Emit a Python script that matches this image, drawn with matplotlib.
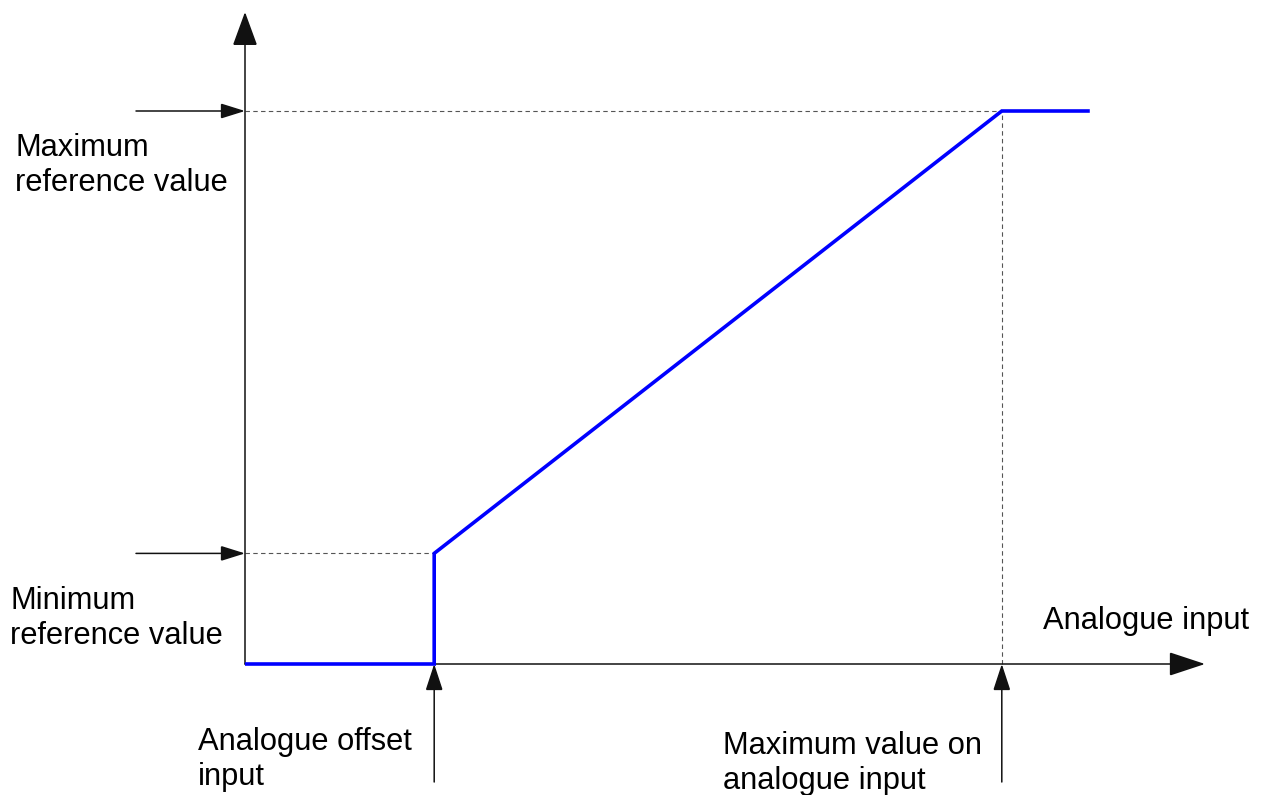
import matplotlib
matplotlib.use('Agg')
from matplotlib import pyplot as plt

# Analogue input -> reference curve (arbitrary units)
input_pts = [0, 2, 2, 8, 8.93]
ref_pts = [0, 0, 1, 5, 5]
offset_input = 2
max_input = 8
min_ref = 1
max_ref = 5

labels_y = ['Maximum\nreference value', 'Minimum\nreference value']
labels_x = ['Analogue offset\ninput', 'Maximum value on\nanalogue input']
axis_label = 'Analogue input'

plt.rcParams['font.family'] = ['Liberation Sans', 'DejaVu Sans']

W, H = 1266, 795
X0, Y0 = 245, 664           # origin in pixels
SX, SY = 94.6, 110.6        # pixels per unit


def px(x, y):
    # pixel position -> data coordinates
    return (x - X0) / SX, (Y0 - y) / SY


fig = plt.figure(figsize=(W / 100, H / 100), dpi=100)
ax = fig.add_axes([0, 0, 1, 1])
ax.set_xlim(-X0 / SX, (W - X0) / SX)
ax.set_ylim(-(H - Y0) / SY, Y0 / SY)
ax.axis('off')

ink = '#111111'


def arrow(tail, tip, hl, hw, lw=1.1):
    ax.annotate('', xy=tip, xytext=tail,
                arrowprops=dict(arrowstyle='-|>,head_length=%g,head_width=%g' % (hl, hw),
                                mutation_scale=1, shrinkA=0, shrinkB=0,
                                lw=lw, color=ink, joinstyle='miter'))


# axes
arrow((0, 0), (0, px(0, 12)[1]), 21.6, 7.9)
arrow((0, 0), (px(1205, 0)[0], 0), 23, 7.6)

# guide lines
dash = dict(color='#555555', lw=0.8, ls=(0, (4, 3)))
ax.plot([0, max_input], [max_ref, max_ref], **dash)
ax.plot([0, offset_input], [min_ref, min_ref], **dash)
ax.plot([max_input, max_input], [0, max_ref], **dash)

# curve
ax.plot(input_pts, ref_pts, color='#0000ff', lw=2.6, solid_joinstyle='miter',
        solid_capstyle='butt', zorder=5)

# pointer arrows
xl = px(136, 0)[0]
arrow((xl, max_ref), (0, max_ref), 15, 4.7)
arrow((xl, min_ref), (0, min_ref), 15, 4.7)
yb = px(0, 782)[1]
arrow((offset_input, yb), (offset_input, 0), 16.5, 5.4)
arrow((max_input, yb), (max_input, 0), 16.5, 5.4)

# texts
fs = 22.2
kw = dict(fontsize=fs, ha='left', va='top', color='black', linespacing=1.22)
ax.text(*px(15, 133), labels_y[0], **kw)
ax.text(*px(10, 586), labels_y[1], **kw)
ax.text(*px(198, 727), labels_x[0], **kw)
ax.text(*px(723, 731), labels_x[1], **kw)
ax.text(*px(1043, 606), axis_label, **kw)

fig.savefig('out.png', dpi=100, facecolor='white')
